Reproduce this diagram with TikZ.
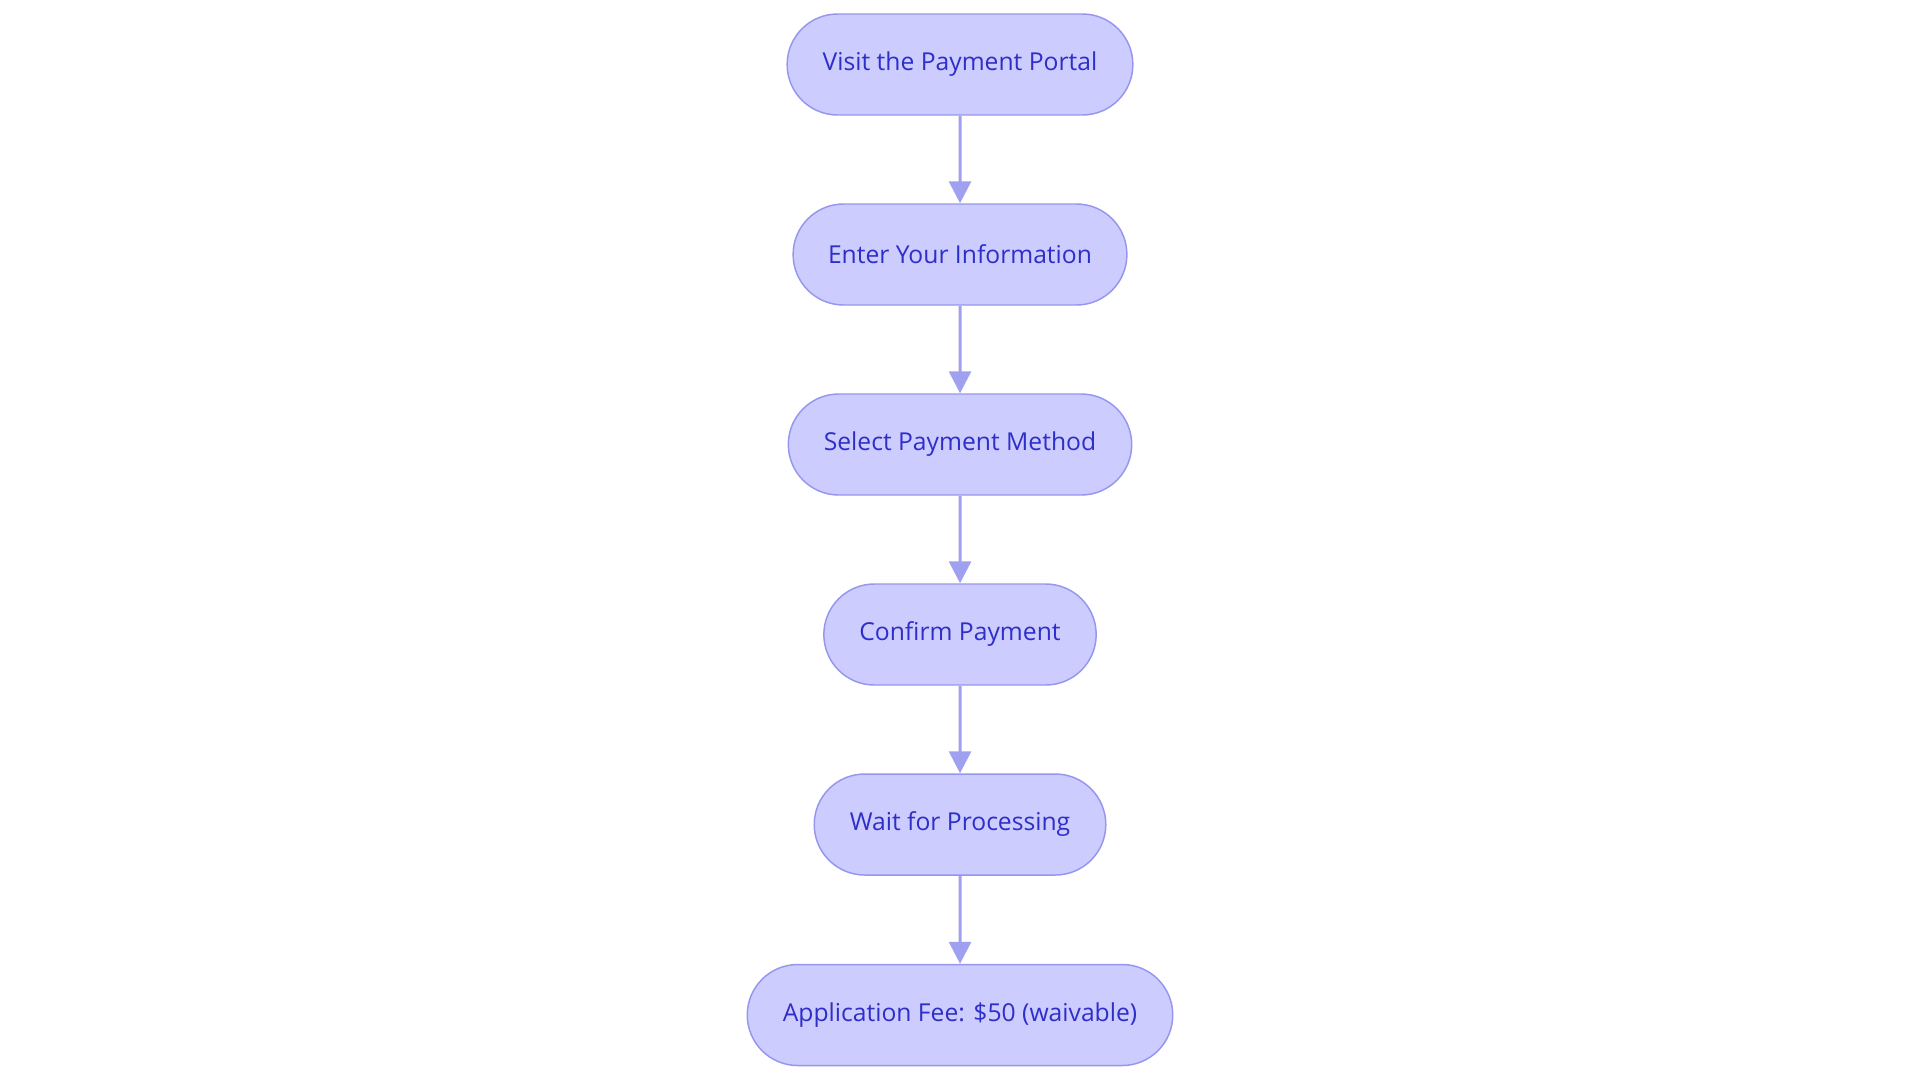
\documentclass[tikz,border=0pt]{standalone}
\usepackage{fontspec}
\setmainfont{Open Sans}
\usepackage{tikz}
\usetikzlibrary{shapes.misc,arrows.meta}
\definecolor{pillfill}{RGB}{204,204,255}
\definecolor{pillline}{RGB}{150,150,238}
\definecolor{pilltext}{RGB}{46,46,200}
\definecolor{arrowline}{RGB}{160,160,240}
\tikzstyle{arrow} = [arrowline,line width=2.25pt,-{Triangle[length=16.5pt,width=16.5pt]}]
\tikzstyle{pill} = [rounded rectangle,draw=pillline,line width=1.1pt,fill=pillfill,text=pilltext,
  font=\fontsize{18.5}{22}\selectfont,minimum height=75.75pt,inner xsep=25.5pt]

\begin{document}
\begin{tikzpicture}[x=0.75pt,y=-0.75pt]
        \useasboundingbox (0,0) rectangle (1920,1083);
        \node[pill] at (960,64.5) (portal) {Visit the Payment Portal};
        \node[pill] at (960,254.5) (info) {Enter Your Information};
        \node[pill] at (960,444.5) (method) {Select Payment Method};
        \node[pill] at (960,634.5) (confirm) {Confirm Payment};
        \node[pill] at (960,824.5) (wait) {Wait for Processing};
        \node[pill] at (960,1015) (fee) {Application Fee: \$50 (waivable)};

        \draw[arrow] (portal) -- (info);
        \draw[arrow] (info) -- (method);
        \draw[arrow] (method) -- (confirm);
        \draw[arrow] (confirm) -- (wait);
        \draw[arrow] (wait) -- (fee);
    \end{tikzpicture}
\end{document}
